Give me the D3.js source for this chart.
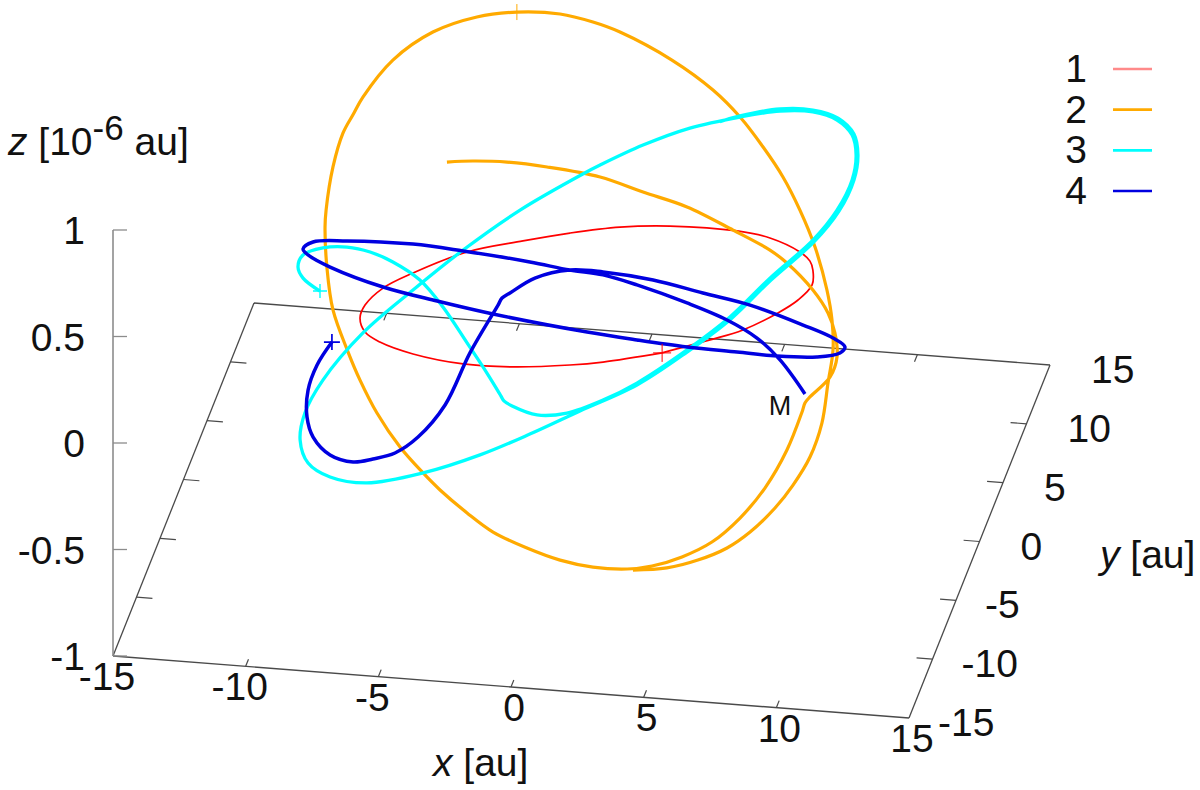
<!DOCTYPE html>
<html><head><meta charset="utf-8">
<script src="https://cdn.jsdelivr.net/npm/d3@7"></script>
<style>html,body{margin:0;padding:0;background:#fff}svg{display:block}text{font-family:"Liberation Sans",Arial,sans-serif;fill:#111}</style>
</head><body><svg id="c" width="1200" height="790"></svg>
<script>
// tick values
const xTicks=[-15,-10,-5,0,5,10,15];
const yTicks=[-15,-10,-5,0,5,10,15];
const zTicks=[-1,-0.5,0,0.5,1];
const legendLabels=["1","2","3","4"];
const seriesColors=["#ff0000","#ffaa00","#00ffff","#0000e0"];
const legendColors=["#ff8a8a","#ffaa00","#00ffff","#0000e0"];
const seriesWidths=[1.7,3.2,3.3,3.5];
const orbit1=[[5.74,.424],[7.55,.485],[8.79,.532],[10.11,.612],[10.87,.673],[11.40,.744],[11.43,.814],[11.32,.856],[10.94,.899],[9.81,.965],[8.57,.998],[6.04,1.021],[4.15,1.016],[2.26,.988],[.49,.951],[-1.62,.899],[-3.66,.8],[-4.79,.729],[-5.47,.649],[-5.66,.588],[-5.47,.522],[-4.91,.475],[-3.66,.419],[-1.77,.372],[.11,.358],[2.26,.367],[3.51,.381],[5.74,.424]];
const orbit2=[[-2.38,1.322],[-1.4,1.327],[-.11,1.322],[1.4,1.299],[3.4,1.252],[5.02,1.181],[6.68,1.111],[8.42,1.002],[9.81,.908],[10.45,.847],[11.43,.72],[12,.612],[12.26,.518],[12.34,.405],[12.08,.311],[11.28,.212],[11.13,.188],[11.02,.146],[10.45,-.033],[9.62,-.212],[8.68,-.353],[7.62,-.466],[6.49,-.536],[5.36,-.579],[4.42,-.593],[3.13,-.584],[1.89,-.551],[.64,-.494],[-.64,-.419],[-1.62,-.329],[-2.64,-.221],[-3.28,-.141],[-4.15,-.019],[-5.02,.141],[-5.66,.296],[-6.11,.428],[-6.68,.626],[-6.91,.828],[-6.98,1.016],[-6.94,1.096],[-6.68,1.299],[-6.3,1.459],[-5.92,1.546],[-5.55,1.628],[-4.42,1.802],[-2.91,1.934],[-1.25,2.005],[.26,2.028],[1.89,2.019],[3.13,1.981],[4.15,1.934],[6.11,1.802],[7.66,1.661],[8.68,1.534],[9.55,1.393],[10.3,1.252],[10.94,1.096],[11.51,.922],[11.96,.72],[12.15,.579],[12.19,.438],[12,.282],[11.77,.094],[11.32,-.066],[10.68,-.198],[10,-.306],[9.06,-.419],[8.19,-.494],[7.09,-.551],[5.92,-.588],[4.64,-.598]];
const orbit3=[[-7.17,.715],[-7.81,.776],[-8,.828],[-7.81,.885],[-7.06,.918],[-6.15,.922],[-5.28,.899],[-4.42,.852],[-3.4,.767],[-2.53,.64],[-1.62,.471],[-.87,.329],[-.34,.221],[-.23,.198],[.08,.174],[1.02,.132],[2.15,.141],[3.51,.202],[4.79,.282],[6.68,.438],[8.3,.593],[9.81,.776],[11.43,.955],[12.34,1.096],[12.91,1.238],[13.06,1.355],[12.91,1.449],[12.34,1.52],[11.43,1.558],[10.19,1.562],[8.68,1.534],[6.79,1.482],[5.02,1.402],[3.4,1.308],[2.75,1.266],[.38,1.096],[-1.77,.908],[-3.66,.72],[-5.55,.518],[-7.06,.296],[-7.74,.141],[-7.92,.014],[-7.62,-.094],[-6.79,-.16],[-5.4,-.188],[-3.28,-.141],[-1.13,-.056],[.75,.042],[2.64,.151],[4.79,.273],[6.68,.428],[8.34,.584],[9.85,.767],[11.47,.946],[12.42,1.092],[12.98,1.238],[13.13,1.355],[12.98,1.454],[12.38,1.529],[11.43,1.567],[10.19,1.572],[8.68,1.539],[7.92,1.512]];
const orbit4=[[-6.72,.475],[-7.28,.367],[-7.62,.249],[-7.66,.122],[-7.43,.028],[-6.79,-.056],[-5.92,-.089],[-5.17,-.075],[-4.34,-.047],[-3.47,.028],[-2.45,.179],[-1.51,.424],[-.45,.649],[-.3,.682],[0,.706],[.94,.776],[2.26,.814],[3.51,.805],[5.4,.767],[7.28,.706],[9.06,.649],[11.06,.555],[12.19,.494],[12.64,.452],[12.45,.424],[11.58,.405],[10.08,.409],[8.57,.428],[6.68,.452],[4.79,.485],[2.91,.522],[-.64,.607],[-2.75,.668],[-4.79,.734],[-6.79,.828],[-7.62,.885],[-7.81,.913],[-7.43,.946],[-6.15,.951],[-3.66,.936],[-1.77,.904],[.75,.852],[2.26,.814],[3.51,.791],[4.79,.744],[6.68,.659],[8.19,.579],[9.32,.494],[10.19,.391],[11.13,.231]];
const orbits=[orbit1,orbit2,orbit3,orbit4];
const markers=[[5.74,.424],[.26,2.028],[-7.17,.715],[-6.72,.475]];

const svg=d3.select("#c");
// axis scales: box corners on the page
const fx=d3.scaleLinear().domain([-15,15]).range([0,1]);
const fy=d3.scaleLinear().domain([-15,15]).range([0,1]);
const zS=d3.scaleLinear().domain([-1,1]).range([656,230]);
const ex=[796,62],ey=[141,-353],o=[113,656];
function P(x,y,z=-1){return [o[0]+fx(x)*ex[0]+fy(y)*ey[0], zS(z)-656+o[1]+fx(x)*ex[1]+fy(y)*ey[1]];}
// viewing-plane scales for the orbits
const uS=d3.scaleLinear().domain([-15,15]).range([112.5,907.5]);
const vS=d3.scaleLinear().domain([-1,1]).range([655.5,230.5]);

const g=svg.append("g").attr("fill","none");
const seg=(a,b,col,w)=>g.append("line").attr("x1",a[0]).attr("y1",a[1]).attr("x2",b[0]).attr("y2",b[1]).attr("stroke",col).attr("stroke-width",w);
const frame="#4a4a4a";
seg(P(-15,-15),P(15,-15),frame,1.4);
seg(P(15,-15),P(15,15),frame,1.3);
seg(P(15,15),P(-15,15),frame,1.3);
seg(P(-15,15),P(-15,-15),frame,1.3);
seg(P(-15,-15,-1),P(-15,-15,1),"#8c8c8c",1.6);
const tl=0.6;
xTicks.slice(1,-1).forEach(t=>{seg(P(t,-15),P(t,-15+tl),frame,1.2);seg(P(t,15),P(t,15-tl),frame,1.2);});
yTicks.slice(1,-1).forEach(t=>{seg(P(15,t),P(15-tl,t),frame,1.2);seg(P(-15,t),P(-15+tl,t),frame,1.2);});
zTicks.forEach(t=>seg(P(-15,-15,t),[P(-15,-15,t)[0]+14,P(-15,-15,t)[1]],"#8c8c8c",1.3));

const fs=39;
svg.append("g").selectAll("text").data(xTicks).join("text")
 .attr("x",d=>P(d,-15)[0]+(d<0?-6:3)).attr("y",d=>P(d,-15)[1]+34)
 .attr("text-anchor","middle").attr("font-size",fs).text(d=>d);
svg.append("g").selectAll("text").data(yTicks).join("text")
 .attr("x",d=>P(15,d)[0]+(d<0?29:41)).attr("y",d=>P(15,d)[1]+18)
 .attr("font-size",fs).text(d=>d);
svg.append("g").selectAll("text").data(zTicks).join("text")
 .attr("x",85).attr("y",d=>zS(d)+14).attr("text-anchor","end").attr("font-size",fs).text(d=>d);

const line=d3.line().x(d=>uS(d[0])).y(d=>vS(d[1])).curve(d3.curveCatmullRom.alpha(0.5));
svg.append("g").selectAll("path").data(orbits).join("path")
 .attr("d",line).attr("fill","none").attr("stroke",(d,i)=>seriesColors[i]).attr("stroke-width",(d,i)=>seriesWidths[i]).attr("stroke-linejoin","round");
// start markers
const markR=[9,8,7,8],markW=[1,1,1.4,1.7];
svg.append("g").selectAll("path").data(markers).join("path")
 .attr("d",(p,i)=>{const cx=uS(p[0]),cy=vS(p[1]),r=markR[i];return `M${cx-r},${cy}H${cx+r}M${cx},${cy-r}V${cy+r}`;})
 .attr("stroke",(p,i)=>seriesColors[i]).attr("stroke-width",(p,i)=>markW[i]).attr("fill","none");

svg.append("text").attr("x",780).attr("y",415).attr("text-anchor","middle").attr("font-size",27).text("M");

// legend
const lg=svg.append("g").selectAll("g").data(legendLabels).join("g");
const lY=d3.scalePoint().domain(legendLabels).range([69,191]);
lg.append("text").attr("x",1087).attr("y",d=>lY(d)+13).attr("text-anchor","end").attr("font-size",fs).text(d=>d);
lg.append("line").attr("x1",1113).attr("x2",1152).attr("y1",d=>lY(d)).attr("y2",d=>lY(d))
 .attr("stroke",(d,i)=>legendColors[i]).attr("stroke-width",2.6);

// axis titles
function title(x,y,parts){const t=svg.append("text").attr("x",x).attr("y",y).attr("font-size",fs);
 parts.forEach(p=>{const s=t.append("tspan").text(p.t);if(p.i)s.attr("font-style","italic");if(p.sup)s.attr("font-size",35).attr("dy",-15);if(p.back)s.attr("dy",15);});}
title(8,155,[{t:"z",i:1},{t:" [10"},{t:"-6",sup:1},{t:" au]",back:1}]);
title(433,776,[{t:"x",i:1},{t:" [au]"}]);
title(1100,568,[{t:"y",i:1},{t:" [au]"}]);
</script></body></html>
